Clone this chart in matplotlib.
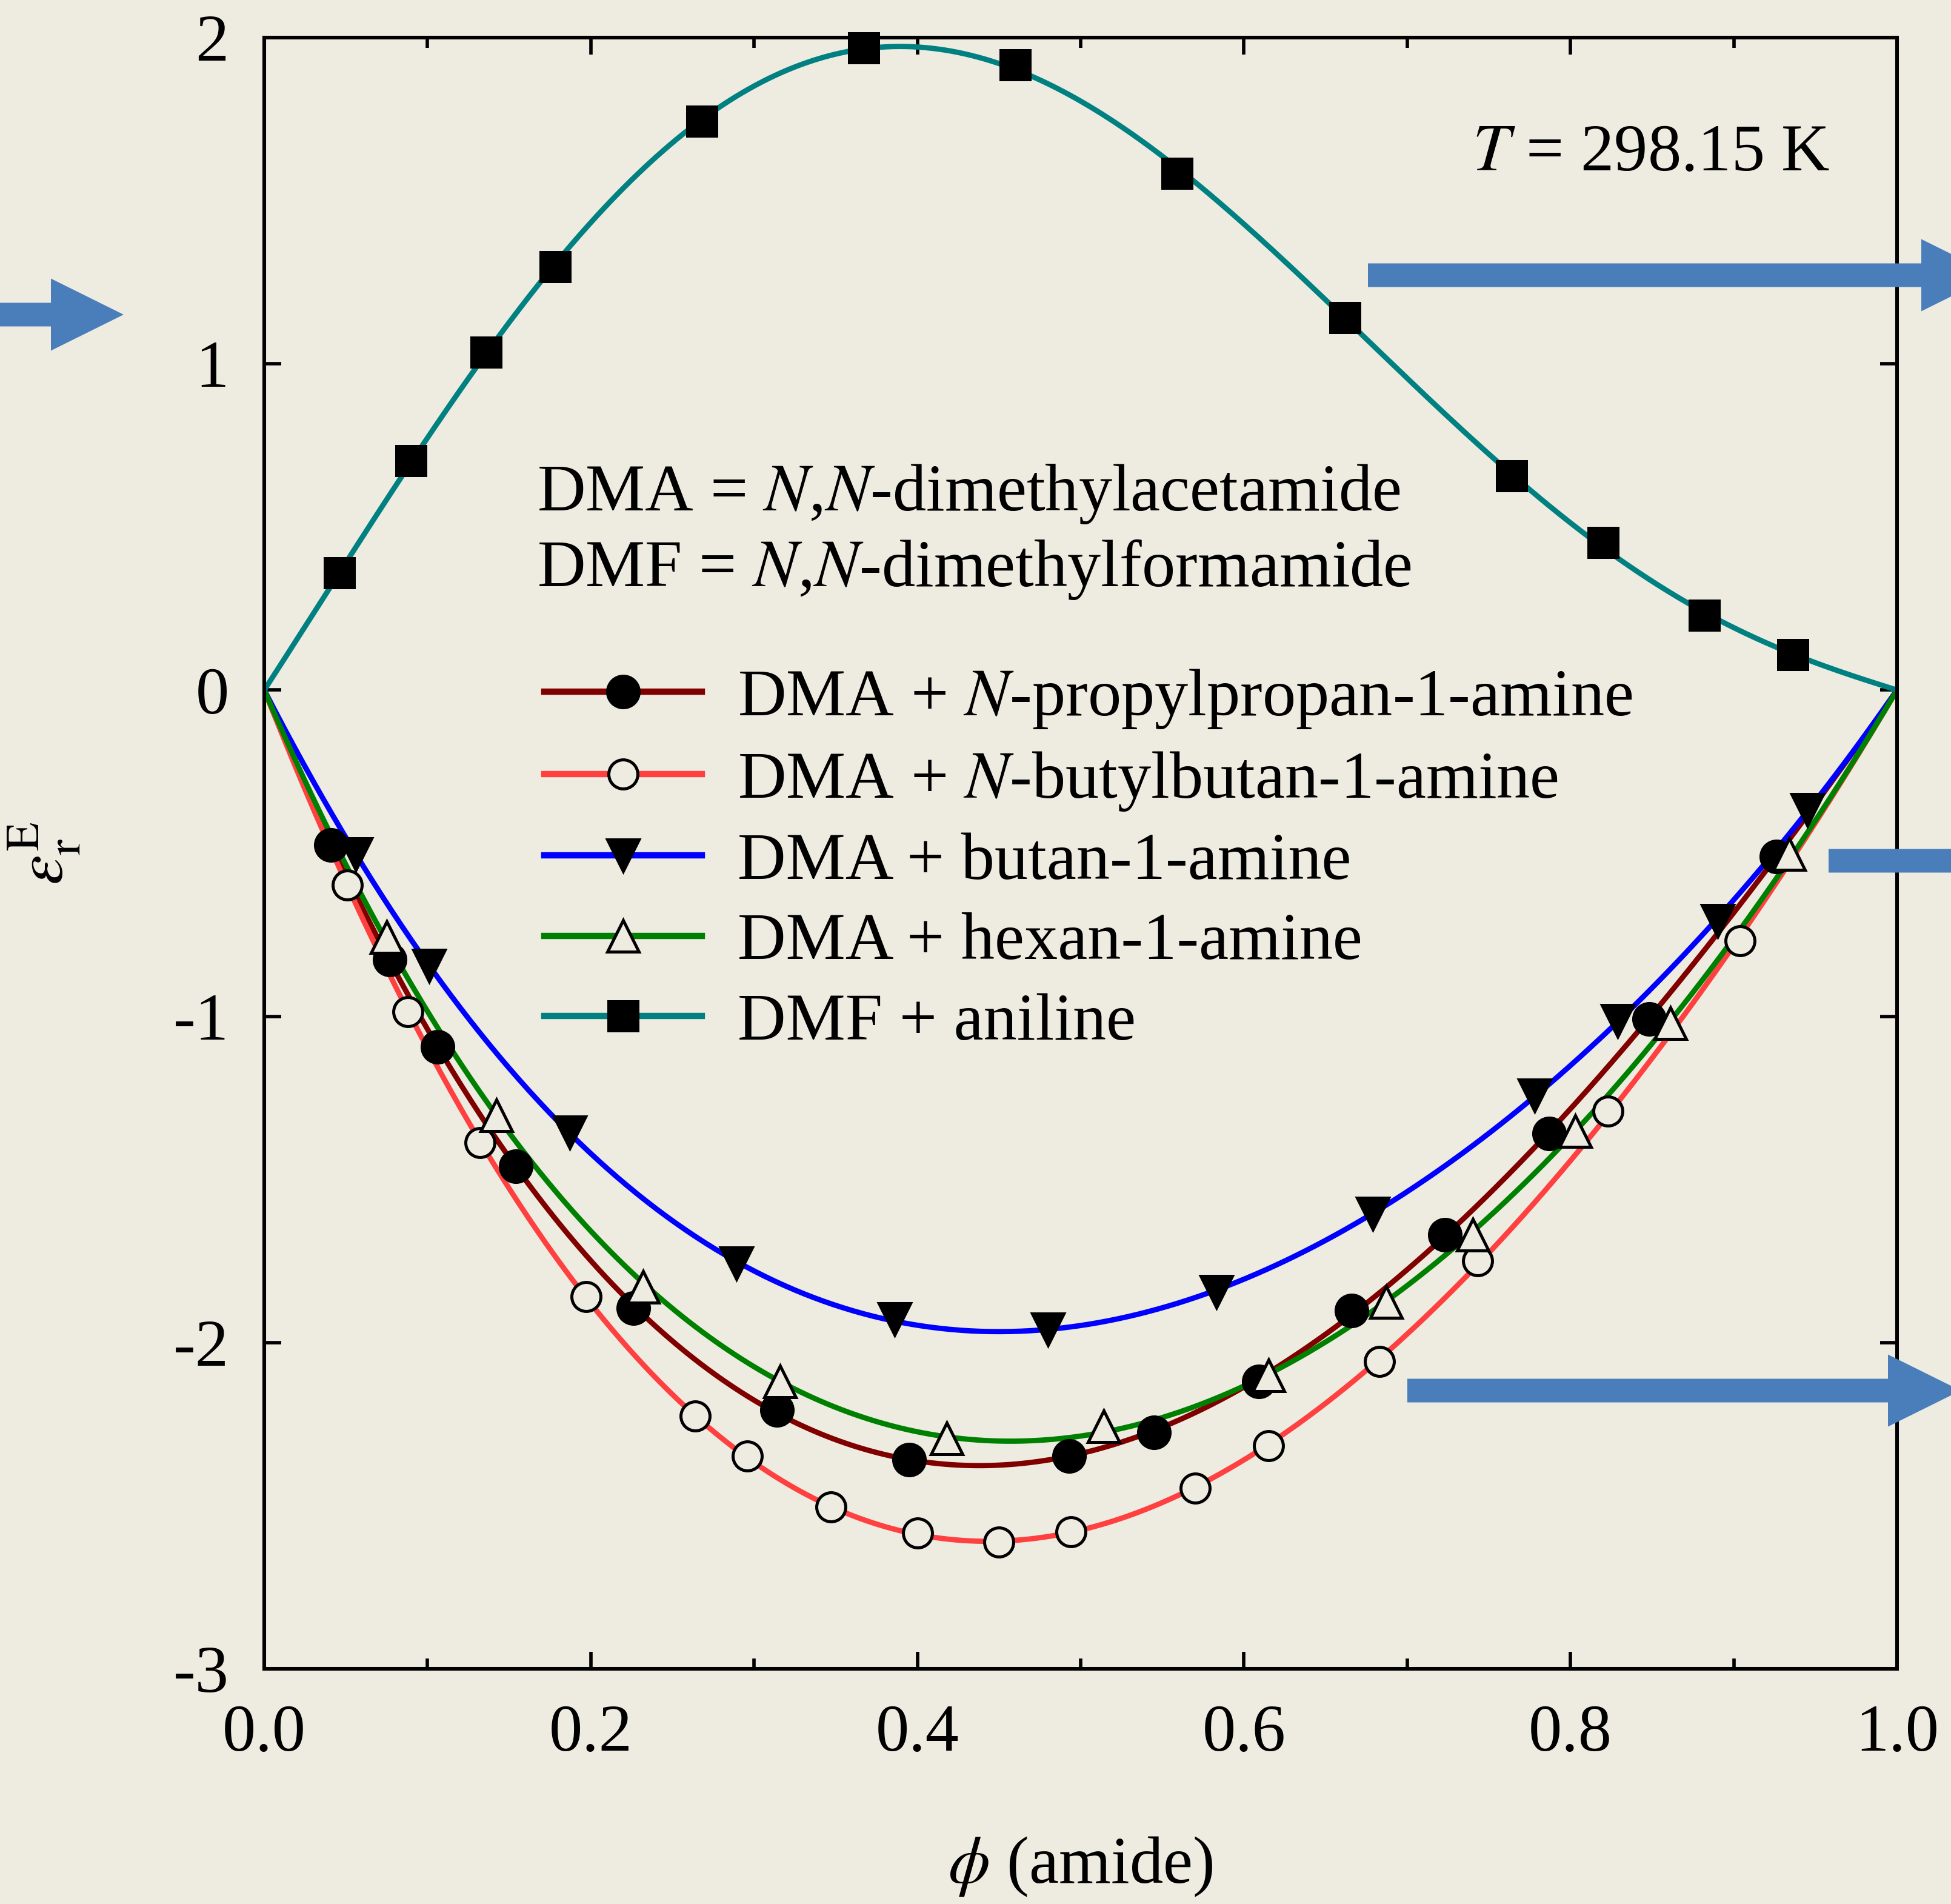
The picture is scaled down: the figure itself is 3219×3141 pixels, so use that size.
import numpy as np
import matplotlib.pyplot as plt
from matplotlib.patches import FancyArrow
from matplotlib.lines import Line2D
from matplotlib.ticker import MultipleLocator, FormatStrFormatter

plt.rcParams['font.family'] = ['Liberation Serif', 'DejaVu Serif']
plt.rcParams['mathtext.fontset'] = 'stix'
plt.rcParams['axes.unicode_minus'] = False

bg = '#EEECE1'
arrow_col = '#4A7EBB'

# values
phi_dpa = [0.041, 0.077, 0.106, 0.154, 0.226, 0.314, 0.395, 0.493, 0.545, 0.609,
           0.666, 0.723, 0.787, 0.848, 0.926]
eps_dpa = [-0.475, -0.826, -1.093, -1.459, -1.894, -2.207, -2.359, -2.348, -2.275, -2.119,
           -1.902, -1.669, -1.360, -1.009, -0.510]

phi_dba = [0.051, 0.088, 0.132, 0.197, 0.264, 0.296, 0.347, 0.400, 0.450, 0.494,
           0.570, 0.615, 0.683, 0.743, 0.823, 0.904]
eps_dba = [-0.597, -0.986, -1.387, -1.860, -2.226, -2.348, -2.504, -2.584, -2.611, -2.580,
           -2.447, -2.317, -2.058, -1.749, -1.291, -0.769]

phi_ba = [0.056, 0.101, 0.187, 0.289, 0.386, 0.480, 0.583, 0.679, 0.778, 0.829, 0.890, 0.945]
eps_ba = [-0.502, -0.845, -1.356, -1.757, -1.928, -1.959, -1.844, -1.604, -1.242, -1.013,
          -0.708, -0.368]

phi_ha = [0.075, 0.142, 0.232, 0.316, 0.418, 0.514, 0.615, 0.687, 0.740, 0.803, 0.861, 0.934]
eps_ha = [-0.757, -1.303, -1.829, -2.119, -2.294, -2.256, -2.100, -1.875, -1.669, -1.352,
          -1.021, -0.502]

phi_an = [0.046, 0.090, 0.136, 0.178, 0.268, 0.367, 0.460, 0.559, 0.662, 0.764, 0.820,
          0.882, 0.936]
eps_an = [0.360, 0.703, 1.035, 1.298, 1.744, 1.969, 1.916, 1.584, 1.142, 0.657, 0.452,
          0.230, 0.108]

labels = ['DMA + $N$-propylpropan-1-amine', 'DMA + $N$-butylbutan-1-amine',
          'DMA + butan-1-amine', 'DMA + hexan-1-amine', 'DMF + aniline']
colors = ['#800000', '#FF4040', '#0000FF', '#008000', '#008080']
markers = ['o', 'o', 'v', '^', 's']
faces = ['black', bg, 'black', bg, 'black']
sizes = [12.5, 11.5, 12.5, 12.5, 11.5]
nterms = [4, 4, 4, 4, 5]

xs = [phi_dpa, phi_dba, phi_ba, phi_ha, phi_an]
ys = [eps_dpa, eps_dba, eps_ba, eps_ha, eps_an]


def rk_fit(x, y, n):
    # Redlich-Kister type fit, zero at both ends
    x = np.asarray(x)
    y = np.asarray(y)
    basis = np.column_stack([x * (1 - x) * (2 * x - 1) ** k for k in range(n)])
    coef = np.linalg.lstsq(basis, y, rcond=None)[0]
    xx = np.linspace(0, 1, 500)
    yy = sum(c * xx * (1 - xx) * (2 * xx - 1) ** k for k, c in enumerate(coef))
    return xx, yy


fig = plt.figure(figsize=(3219 / 300, 3141 / 300), dpi=300, facecolor=bg)
ax = fig.add_axes([0.13545, 0.12353, 0.8369, 0.85674])
ax.set_facecolor(bg)

handles = []
for x, y, lab, c, m, fc, ms, n in zip(xs, ys, labels, colors, markers, faces, sizes, nterms):
    xx, yy = rk_fit(x, y, n)
    ax.plot(xx, yy, color=c, lw=2.1, zorder=2)
    ax.plot(x, y, ls='none', marker=m, ms=ms, mfc=fc, mec='black', mew=1.2,
            zorder=3, clip_on=False)
    handles.append(Line2D([], [], color=c, lw=2.5, marker=m, ms=ms, mfc=fc,
                          mec='black', mew=1.2))

ax.set_xlim(0, 1)
ax.set_ylim(-3, 2)
ax.xaxis.set_major_locator(MultipleLocator(0.2))
ax.xaxis.set_minor_locator(MultipleLocator(0.1))
ax.xaxis.set_major_formatter(FormatStrFormatter('%.1f'))
ax.yaxis.set_major_locator(MultipleLocator(1))
ax.tick_params(which='both', direction='in', top=True, right=True, width=1.35,
               labelsize=26.5, pad=14)
ax.tick_params(which='major', length=6.7)
ax.tick_params(which='minor', length=4)
for sp in ax.spines.values():
    sp.set_linewidth(1.45)

ax.set_xlabel(r'$\phi$ (amide)', fontsize=26.5, labelpad=28)
ax.set_ylabel(r'$\varepsilon_{\mathrm{r}}^{\mathrm{E}}$', fontsize=26.5, labelpad=36)

ax.text(0.959, 1.593, '$T$ = 298.15 K', fontsize=26.5, ha='right', va='baseline')
ax.text(0.167, 0.551, 'DMA = $N$,$N$-dimethylacetamide', fontsize=26.5, va='baseline')
ax.text(0.167, 0.318, 'DMF = $N$,$N$-dimethylformamide', fontsize=26.5, va='baseline')

ax.legend(handles, labels, loc='upper left', bbox_to_anchor=(0.1715, 0.614),
          frameon=False, fontsize=26.5, handlelength=2.35, handletextpad=0.54,
          labelspacing=0.29, borderpad=0, borderaxespad=0, numpoints=1)

# blue arrows (pixel positions, y from top)
arrows = [(0, 204, 519), (2257, 3290, 454), (3017, 3400, 1420), (2322, 3235, 2294)]
for x0, x1, yc in arrows:
    ar = FancyArrow(x0 / 300, (3141 - yc) / 300, (x1 - x0) / 300, 0,
                    width=39 / 300, head_width=119 / 300, head_length=120 / 300,
                    length_includes_head=True, color=arrow_col, lw=0,
                    transform=fig.dpi_scale_trans, zorder=10)
    fig.add_artist(ar)

fig.savefig('out.png', dpi=300, facecolor=bg)
